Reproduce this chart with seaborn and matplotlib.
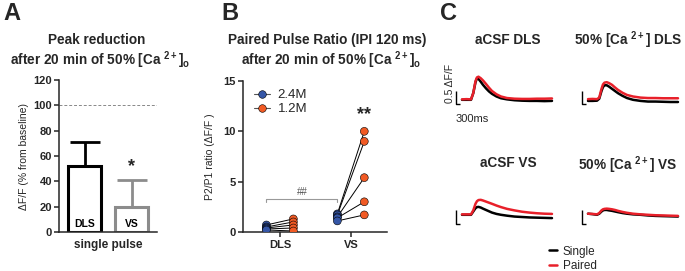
import numpy as np
import pandas as pd
import matplotlib
matplotlib.use('Agg')
import matplotlib.pyplot as plt
import seaborn as sns
from matplotlib.lines import Line2D

sns.set_style('ticks')
plt.rcParams['font.family'] = ['Liberation Sans', 'DejaVu Sans']
plt.rcParams['mathtext.fontset'] = 'custom'
plt.rcParams['mathtext.rm'] = 'Liberation Sans'
plt.rcParams['mathtext.bf'] = 'Liberation Sans:bold'
plt.rcParams['mathtext.it'] = 'Liberation Sans:italic'

# ---------------- data ----------------
# Panel A
regions = ['DLS', 'VS']
peak_mean = [52, 20]
peak_err = [19, 21]

# Panel B (paired pulse ratio, pairs: 2.4M -> 1.2M)
ppr_dls_24 = [0.7, 0.5, 0.4, 0.3, 0.2]
ppr_dls_12 = [1.3, 1.0, 0.7, 0.4, 0.1]
ppr_vs_24 = [1.8, 1.7, 1.5, 1.4, 1.1]
ppr_vs_12 = [10.0, 9.0, 5.4, 3.0, 1.7]
series_labels = ['2.4M', '1.2M']

# Panel C traces (time in s, dF/F relative to baseline)
t = [0, 0.3, 0.6, 0.75, 0.9, 1.0, 1.1, 1.25, 1.4, 1.6, 1.8, 2.0, 2.3, 2.6,
     3.0, 3.5, 4.0, 4.5, 5.0, 5.5, 6.0]
acsf_dls_single = [0, 0, 0, 0.3, 0.8, 0.98, 0.95, 0.82, 0.68, 0.52, 0.38, 0.27,
                   0.15, 0.07, 0.02, -0.02, -0.04, -0.05, -0.05, -0.06, -0.05]
acsf_dls_paired = [0.02, 0.03, 0.02, 0.3, 0.85, 1.02, 1.05, 0.98, 0.88, 0.72, 0.55,
                   0.4, 0.25, 0.15, 0.08, 0.05, 0.04, 0.04, 0.05, 0.05, 0.06]
ca_dls_single = [-0.05, -0.05, -0.04, 0.05, 0.4, 0.58, 0.66, 0.66, 0.6, 0.5, 0.4,
                 0.3, 0.18, 0.08, 0.0, -0.05, -0.08, -0.08, -0.09, -0.1, -0.1]
ca_dls_paired = [0.03, 0.04, 0.03, 0.1, 0.5, 0.7, 0.78, 0.8, 0.76, 0.68, 0.56,
                 0.45, 0.32, 0.22, 0.15, 0.1, 0.08, 0.08, 0.07, 0.07, 0.07]
acsf_vs_single = [0, 0, 0, 0.15, 0.3, 0.35, 0.36, 0.33, 0.28, 0.22, 0.16, 0.1,
                  0.04, 0.0, -0.04, -0.08, -0.1, -0.12, -0.13, -0.14, -0.15]
acsf_vs_paired = [0.02, 0.02, 0.02, 0.2, 0.5, 0.62, 0.67, 0.68, 0.65, 0.6, 0.55,
                  0.5, 0.42, 0.35, 0.27, 0.2, 0.14, 0.1, 0.07, 0.05, 0.04]
ca_vs_single = [0.05, 0.03, 0.0, 0.05, 0.15, 0.2, 0.22, 0.22, 0.2, 0.18, 0.15,
                0.12, 0.08, 0.05, 0.02, 0.0, -0.03, -0.05, -0.06, -0.07, -0.08]
ca_vs_paired = [0.05, 0.04, 0.02, 0.08, 0.2, 0.25, 0.27, 0.28, 0.27, 0.25, 0.22,
                0.18, 0.13, 0.09, 0.05, 0.02, 0.0, -0.02, -0.03, -0.04, -0.05]
trace_titles = ['aCSF DLS', r'50% [Ca $^{\mathbf{2+}}$] DLS',
                'aCSF VS', r'50% [Ca $^{\mathbf{2+}}$] VS']

# ---------------- figure ----------------
W, H = 685, 271
fig = plt.figure(figsize=(W / 100, H / 100), dpi=100)

def rect(l, t_, r, b):
    return [l / W, 1 - b / H, (r - l) / W, (b - t_) / H]

def fx(x):
    return x / W

def fy(y):
    return 1 - y / H

BLUE = '#3556a6'
ORANGE = '#f15a24'
GRAY = '#8c8c8c'

# ---- Panel A ----
axA = fig.add_axes(rect(59, 80, 157, 232))
dfA = pd.DataFrame({'region': regions, 'mean': peak_mean})
sns.barplot(data=dfA, x='region', y='mean', hue='region',
            palette={'DLS': 'black', 'VS': GRAY}, fill=False, linewidth=2.2,
            width=0.7, legend=False, ax=axA, errorbar=None)
for i, (m, e) in enumerate(zip(peak_mean, peak_err)):
    c = 'black' if i == 0 else GRAY
    axA.errorbar(i, m, yerr=[[0], [e]], color=c, lw=2.0, capsize=11, capthick=2.0)
    axA.text(i, 6.5, regions[i], ha='center', va='center', fontsize=7.5,
             fontweight='bold', color='black')
axA.axhline(100, color='#888888', lw=0.7, ls=(0, (3, 2)))
axA.text(1, 45, '*', ha='center', va='bottom', fontsize=13, fontweight='bold')
axA.set_xlim(-0.54, 1.53)
axA.set_ylim(0, 120)
axA.set_yticks([0, 20, 40, 60, 80, 100, 120])
axA.set_xticks([])
axA.set_xlabel('single pulse', fontsize=8.5, fontweight='bold', labelpad=5)
axA.set_ylabel('ΔF/F (% from baseline)', fontsize=7.5, labelpad=3)
for s in ['top', 'right']:
    axA.spines[s].set_visible(False)
for s in ['left', 'bottom']:
    axA.spines[s].set_linewidth(1.1)
axA.tick_params(axis='y', width=1.1, length=3.5, pad=1.5, labelsize=8)
for lab in axA.get_yticklabels():
    lab.set_fontweight('bold')

# ---- Panel B ----
axB = fig.add_axes(rect(243, 81, 387, 232))
off = 0.19
pos_dls, pos_vs = 0, 1
rows = []
for a, b in zip(ppr_dls_24, ppr_dls_12):
    axB.plot([pos_dls - off, pos_dls + off], [a, b], color='black', lw=0.7, zorder=1)
for a, b in zip(ppr_vs_24, ppr_vs_12):
    axB.plot([pos_vs - off, pos_vs + off], [a, b], color='black', lw=0.7, zorder=1)
for v in ppr_dls_24:
    rows.append((pos_dls - off, v, series_labels[0]))
for v in ppr_dls_12:
    rows.append((pos_dls + off, v, series_labels[1]))
for v in ppr_vs_24:
    rows.append((pos_vs - off, v, series_labels[0]))
for v in ppr_vs_12:
    rows.append((pos_vs + off, v, series_labels[1]))
dfB = pd.DataFrame(rows, columns=['x', 'y', 'grp'])
sns.scatterplot(data=dfB, x='x', y='y', hue='grp',
                palette={series_labels[0]: BLUE, series_labels[1]: ORANGE},
                s=32, edgecolor='black', linewidth=0.4, legend=False, ax=axB, zorder=3)
# bracket
axB.plot([pos_dls - off, pos_dls - off, pos_vs - off, pos_vs - off],
         [3.0, 3.3, 3.3, 3.0], color='#999999', lw=0.8)
axB.text((pos_dls + pos_vs - 2 * off) / 2, 3.45, '##', ha='center', va='bottom',
         fontsize=7, color='#555555')
axB.text(pos_vs + off, 10.8, '**', ha='center', va='bottom', fontsize=13,
         fontweight='bold')
axB.set_xlim(-0.52, 1.51)
axB.set_ylim(0, 15)
axB.set_yticks([0, 5, 10, 15])
axB.set_xticks([pos_dls, pos_vs])
axB.set_xticklabels(['DLS', 'VS'])
axB.set_xlabel('')
axB.set_ylabel('P2/P1 ratio (ΔF/F )', fontsize=7.5, labelpad=6)
for s in ['top', 'right']:
    axB.spines[s].set_visible(False)
for s in ['left', 'bottom']:
    axB.spines[s].set_linewidth(1.1)
axB.tick_params(width=1.1, length=3.5, pad=1.5, labelsize=8)
axB.tick_params(axis='x', labelsize=8, pad=2)
for lab in axB.get_yticklabels() + axB.get_xticklabels():
    lab.set_fontweight('bold')
hB = [Line2D([0], [0], color='#555555', lw=0.8, marker='o', markersize=5.5,
             markerfacecolor=BLUE, markeredgecolor='black', markeredgewidth=0.4),
      Line2D([0], [0], color='#555555', lw=0.8, marker='o', markersize=5.5,
             markerfacecolor=ORANGE, markeredgecolor='black', markeredgewidth=0.4)]
axB.legend(hB, series_labels, loc='upper left', bbox_to_anchor=(0.02, 1.0),
           frameon=False, fontsize=9.5, handlelength=1.2, handletextpad=0.6,
           labelspacing=0.15, borderaxespad=0.2)

# ---- Panel C ----
trace_sets = [(acsf_dls_single, acsf_dls_paired), (ca_dls_single, ca_dls_paired),
              (acsf_vs_single, acsf_vs_paired), (ca_vs_single, ca_vs_paired)]
lefts = [453, 579]
bottoms = [113, 228]
title_pos = [(508, 40), (628, 40), (508, 163), (628, 165)]
px_per_s = 15
px_per_unit = 22
xlo, xhi = -0.6, 6.1
ylo, yhi = -0.6, 1.3
legend_handles = None
for k, (single, paired) in enumerate(trace_sets):
    col, row = k % 2, k // 2
    l = lefts[col]
    b = bottoms[row]
    w = (xhi - xlo) * px_per_s
    h = (yhi - ylo) * px_per_unit
    ax = fig.add_axes(rect(l, b - h, l + w, b))
    sns.lineplot(x=t, y=single, ax=ax, color='black', lw=1.8, label='Single',
                 legend=False)
    sns.lineplot(x=t, y=paired, ax=ax, color='#e8202a', lw=1.8, label='Paired',
                 legend=False)
    if legend_handles is None:
        legend_handles = ax.get_lines()[:2]
    sb_x = -0.4
    sb_y0 = -0.2 if row == 0 else -0.4
    ax.plot([sb_x, sb_x, sb_x + 0.25], [sb_y0 + 0.6, sb_y0, sb_y0], color='black',
            lw=1.0, solid_capstyle='butt')
    ax.set_xlim(xlo, xhi)
    ax.set_ylim(ylo, yhi)
    ax.axis('off')
    tx, ty = title_pos[k]
    fig.text(fx(tx), fy(ty), trace_titles[k], ha='center', va='center',
             fontsize=9.8, fontweight='bold')

fig.text(fx(450), fy(103), '0.5 ΔF/F', rotation=90, ha='center', va='bottom',
         fontsize=7.5)
fig.text(fx(472), fy(119), '300ms', ha='center', va='center', fontsize=8)
fig.legend(legend_handles, ['Single', 'Paired'], loc='center left',
           bbox_to_anchor=(fx(538), fy(259)), frameon=False, fontsize=8.5,
           handlelength=0.7, handletextpad=0.5, labelspacing=0.25)

# ---- titles and panel letters ----
fig.text(fx(97), fy(40), 'Peak reduction', ha='center', va='center', fontsize=9.8,
         fontweight='bold')
fig.text(fx(100), fy(60), r'after 20 min of 50% [Ca $^{\mathbf{2+}}$]$_{\mathbf{o}}$',
         ha='center', va='center', fontsize=9.8, fontweight='bold')
fig.text(fx(327), fy(40), 'Paired Pulse Ratio (IPI 120 ms)', ha='center',
         va='center', fontsize=9.8, fontweight='bold')
fig.text(fx(331), fy(60), r'after 20 min of 50% [Ca $^{\mathbf{2+}}$]$_{\mathbf{o}}$',
         ha='center', va='center', fontsize=9.8, fontweight='bold')
for letter, x in [('A', 3), ('B', 221), ('C', 440)]:
    fig.text(fx(x), fy(13), letter, ha='left', va='center', fontsize=17,
             fontweight='bold')

fig.savefig('out.png', dpi=100)
